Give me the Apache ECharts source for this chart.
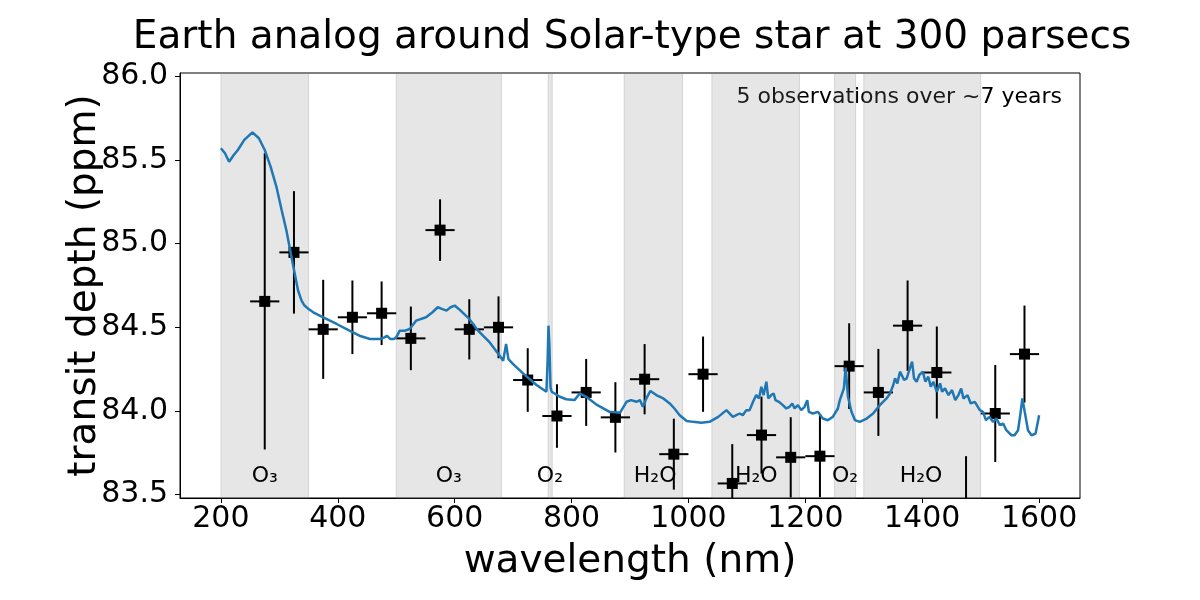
<!DOCTYPE html>
<html>
<head>
<meta charset="utf-8">
<script src="https://cdn.jsdelivr.net/npm/echarts@6/dist/echarts.min.js"></script>
<style>
  html, body { margin: 0; padding: 0; background: #fff; }
  #chart { width: 1200px; height: 600px; }
</style>
</head>
<body>
<div id="chart"></div>
<script>
// model transmission spectrum (wavelength nm, depth ppm)
const modelWl = [200, 207, 214, 222, 229, 240, 254, 265, 275, 285, 295, 304, 312, 323, 332, 338, 343, 350, 358, 375,
  398, 420, 437, 455, 472, 480, 484, 490, 496, 500, 506, 515, 523, 534, 551, 562, 571, 578, 586, 593,
  600, 607, 625, 640, 660, 677, 683, 688, 692, 700, 717, 740, 757, 759, 760.5, 762, 764, 766, 780, 791,
  805, 814, 825, 842, 865, 883, 894, 902, 911, 917, 922, 928, 935, 945, 957, 968, 976, 985, 997, 1008,
  1022, 1036, 1051, 1065, 1076, 1087.5, 1093, 1099, 1104.7, 1110.5, 1116, 1120.7, 1124.7, 1128.6, 1133.3, 1136.6, 1141.7, 1145.7, 1149, 1154.7,
  1161.5, 1167.5, 1173, 1177.7, 1181.6, 1187.3, 1193, 1198.7, 1203.3, 1206, 1212.8, 1221.4, 1230, 1238.5, 1247, 1255.7, 1259, 1266, 1269, 1273,
  1279, 1285, 1293, 1305, 1316, 1327.5, 1333, 1339, 1345, 1350.5, 1353.5, 1357.5, 1362, 1365, 1369, 1373.5, 1378, 1382.7, 1386, 1390.5,
  1395, 1401, 1405.5, 1410.5, 1414.6, 1419, 1425, 1430.6, 1434, 1439, 1445, 1451, 1456.6, 1462, 1466.7, 1470.6, 1477.6, 1483, 1490, 1498.6,
  1504, 1509, 1515, 1521, 1527, 1533, 1538.5, 1544, 1552.7, 1558, 1564, 1568.5, 1571.4, 1575.4, 1581, 1587, 1594, 1599, 1600];
const modelDepth = [85.57, 85.54, 85.49, 85.53, 85.56, 85.62, 85.665, 85.63, 85.56, 85.46, 85.34, 85.20, 85.08, 84.88, 84.72, 84.66, 84.63, 84.61, 84.59, 84.56,
  84.52, 84.48, 84.45, 84.43, 84.43, 84.44, 84.45, 84.43, 84.43, 84.44, 84.48, 84.48, 84.49, 84.54, 84.56, 84.59, 84.62, 84.61, 84.60, 84.62,
  84.63, 84.61, 84.55, 84.48, 84.41, 84.33, 84.30, 84.40, 84.31, 84.28, 84.225, 84.155, 84.115, 84.30, 84.51, 84.40, 84.14, 84.115, 84.085, 84.07,
  84.065, 84.105, 84.085, 84.04, 83.995, 83.99, 84.055, 84.065, 84.055, 84.065, 84.025, 84.075, 84.12, 84.095, 84.075, 84.045, 84.015, 83.975, 83.94, 83.935,
  83.93, 83.935, 83.965, 84.005, 83.965, 83.985, 83.975, 84.005, 84.005, 84.055, 84.095, 84.075, 84.145, 84.095, 84.175, 84.075, 84.095, 84.105, 84.065, 84.055,
  84.035, 84.015, 84.025, 84.045, 84.015, 84.035, 84.005, 84.025, 84.065, 83.995, 83.985, 83.995, 83.955, 83.945, 83.965, 84.015, 84.065, 84.135, 84.26, 84.085,
  83.995, 83.945, 83.935, 83.955, 83.985, 84.035, 84.055, 84.075, 84.105, 84.155, 84.195, 84.165, 84.235, 84.245, 84.185, 84.195, 84.245, 84.295, 84.195, 84.175,
  84.215, 84.235, 84.175, 84.205, 84.145, 84.175, 84.115, 84.165, 84.115, 84.135, 84.095, 84.125, 84.065, 84.095, 84.135, 84.075, 84.095, 84.045, 84.055, 84.005,
  83.995, 83.945, 83.965, 83.935, 83.955, 83.915, 83.925, 83.885, 83.855, 83.855, 83.885, 83.995, 84.075, 83.995, 83.885, 83.855, 83.865, 83.955, 83.975];

// binned observations
const obsWl = [275, 325, 375, 425, 475, 525, 575, 625, 675, 725, 775, 825, 875, 925, 975,
  1025, 1075, 1125, 1175, 1225, 1275, 1325, 1375, 1425, 1475, 1525, 1575];
const obsDepth = [84.655, 84.948, 84.488, 84.56, 84.584, 84.434, 85.081, 84.488, 84.50, 84.185, 83.97, 84.111, 83.962, 84.19, 83.742,
  84.22, 83.567, 83.856, 83.723, 83.73, 84.268, 84.111, 84.51, 84.23, 83.45, 83.985, 84.34];
const obsErr = [0.885, 0.366, 0.296, 0.22, 0.19, 0.19, 0.184, 0.18, 0.185, 0.19, 0.19, 0.20, 0.21, 0.21, 0.212,
  0.225, 0.235, 0.23, 0.24, 0.245, 0.256, 0.26, 0.27, 0.275, 0.28, 0.29, 0.29];
const binHalfWidth = 25;

// absorption bands
const bandStart = [200, 500, 760, 890, 1040, 1250, 1300];
const bandEnd = [350, 680, 767, 990, 1190, 1286, 1500];
const bandLabelWl = [275, 590, 763, 943, 1116, 1268, 1398];
const bandLabelText = ['O₃', 'O₃', 'O₂', 'H₂O', 'H₂O', 'O₂', 'H₂O'];
const bandLabelDepth = 83.61;

const xTicks = [200, 400, 600, 800, 1000, 1200, 1400, 1600];
const yTicks = [83.5, 84.0, 84.5, 85.0, 85.5, 86.0];

const FONT = 'DejaVu Sans';

const chart = echarts.init(document.getElementById('chart'), null, { renderer: 'canvas' });

const renderErrorBar = (params, api) => {
  const x = api.value(0), y = api.value(1), e = api.value(2);
  const top = api.coord([x, y + e]);
  const bot = api.coord([x, y - e]);
  const left = api.coord([x - binHalfWidth, y]);
  const right = api.coord([x + binHalfWidth, y]);
  const style = { stroke: '#000', lineWidth: 2 };
  return {
    type: 'group',
    children: [
      { type: 'line', shape: { x1: top[0], y1: top[1], x2: bot[0], y2: bot[1] }, style },
      { type: 'line', shape: { x1: left[0], y1: left[1], x2: right[0], y2: right[1] }, style }
    ]
  };
};

const option = {
  animation: false,
  textStyle: { fontFamily: FONT },
  title: {
    text: 'Earth analog around Solar-type star at 300 parsecs',
    left: 627,
    top: 13,
    textAlign: 'center',
    textStyle: { fontFamily: FONT, fontSize: 39, fontWeight: 'normal', color: '#000' }
  },
  graphic: [{
    type: 'text',
    right: 138,
    top: 86,
    style: { text: '5 observations over ~7 years', font: '22px "DejaVu Sans"', fill: '#000' }
  }],
  grid: {
    left: 180, right: 120, top: 73, bottom: 102,
    show: true, borderColor: '#000', borderWidth: 1, backgroundColor: 'transparent'
  },
  xAxis: {
    type: 'value',
    min: 130,
    max: 1670,
    name: 'wavelength (nm)',
    nameLocation: 'middle',
    nameGap: 44,
    nameTextStyle: { fontFamily: FONT, fontSize: 39, color: '#000' },
    axisLine: { show: true, lineStyle: { color: '#000', width: 1 } },
    axisTick: { show: true, length: 5, lineStyle: { color: '#000' }, customValues: xTicks },
    axisLabel: {
      fontFamily: FONT, fontSize: 30, color: '#000', margin: 6,
      customValues: xTicks, formatter: v => String(v)
    },
    splitLine: { show: false }
  },
  yAxis: {
    type: 'value',
    min: 83.48,
    max: 86.02,
    name: 'transit depth (ppm)',
    nameLocation: 'middle',
    nameGap: 76,
    nameMoveOverlap: false,
    nameRotate: 90,
    nameTextStyle: { fontFamily: FONT, fontSize: 39, color: '#000' },
    axisLine: { show: true, lineStyle: { color: '#000', width: 1 } },
    axisTick: { show: true, length: 5, lineStyle: { color: '#000' }, customValues: yTicks },
    axisLabel: {
      fontFamily: FONT, fontSize: 30, color: '#000', margin: 12,
      customValues: yTicks, formatter: v => v.toFixed(1)
    },
    splitLine: { show: false }
  },
  series: [
    {
      name: 'bands',
      type: 'line',
      data: [],
      z: 1,
      markArea: {
        silent: true,
        itemStyle: { color: 'rgba(128,128,128,0.2)', borderColor: 'rgba(128,128,128,0.25)', borderWidth: 1 },
        data: bandStart.map((s, i) => [{ xAxis: s }, { xAxis: bandEnd[i] }])
      }
    },
    {
      name: 'band labels',
      type: 'scatter',
      symbolSize: 0,
      z: 2,
      silent: true,
      itemStyle: { opacity: 1 },
      data: bandLabelWl.map((w, i) => ({ value: [w, bandLabelDepth], name: bandLabelText[i] })),
      label: {
        show: true,
        position: 'inside',
        formatter: p => p.name,
        fontFamily: FONT,
        fontSize: 22,
        color: '#000'
      }
    },
    {
      name: 'error bars',
      type: 'custom',
      z: 3,
      clip: true,
      renderItem: renderErrorBar,
      encode: { x: 0, y: 1 },
      data: obsWl.map((w, i) => [w, obsDepth[i], obsErr[i]])
    },
    {
      name: 'observations',
      type: 'scatter',
      symbol: 'rect',
      symbolSize: 11,
      z: 4,
      clip: true,
      itemStyle: { color: '#000', opacity: 1 },
      data: obsWl.map((w, i) => [w, obsDepth[i]])
    },
    {
      name: 'model',
      type: 'line',
      showSymbol: false,
      z: 5,
      lineStyle: { color: '#1f77b4', width: 2.5 },
      data: modelWl.map((w, i) => [w, modelDepth[i]])
    }
  ]
};

chart.setOption(option);
</script>
</body>
</html>
